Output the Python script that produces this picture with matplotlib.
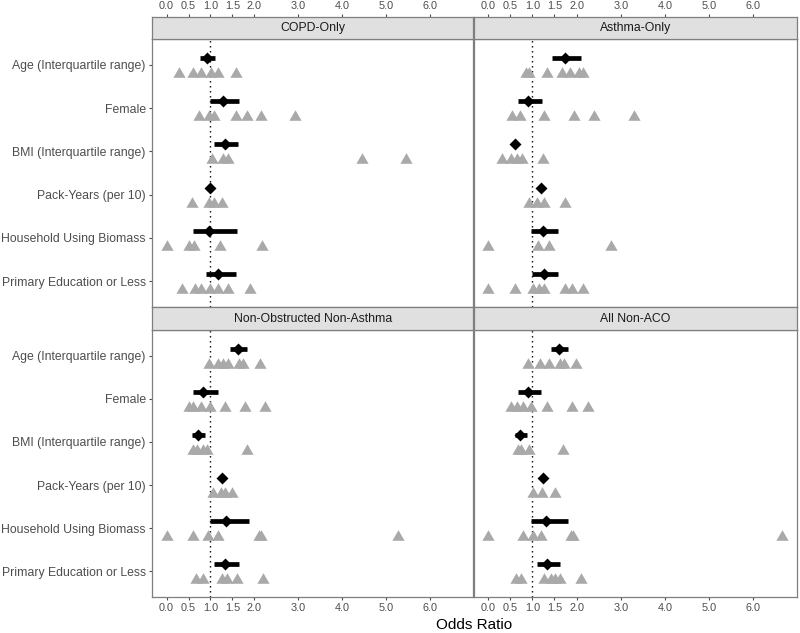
import matplotlib
matplotlib.use("Agg")
import matplotlib.pyplot as plt
import numpy as np

plt.rcParams['font.family'] = ['Liberation Sans', 'DejaVu Sans']

categories = ["Age (Interquartile range)", "Female", "BMI (Interquartile range)",
              "Pack-Years (per 10)", "Household Using Biomass", "Primary Education or Less"]
panel_titles = ["COPD-Only", "Asthma-Only", "Non-Obstructed Non-Asthma", "All Non-ACO"]
x_ticks = [0.0, 0.5, 1.0, 1.5, 2.0, 3.0, 4.0, 5.0, 6.0]
x_tick_labels = ["0.0", "0.5", "1.0", "1.5", "2.0", "3.0", "4.0", "5.0", "6.0"]

# COPD-Only
copd_est = [0.91, 1.28, 1.32, 1.00, 0.97, 1.18]
copd_lo = [0.76, 1.00, 1.07, 0.97, 0.60, 0.89]
copd_hi = [1.10, 1.66, 1.63, 1.03, 1.60, 1.57]
copd_sites = [[0.29, 0.59, 0.78, 1.02, 1.18, 1.58],
              [0.74, 0.96, 1.07, 1.58, 1.83, 2.14, 2.92],
              [1.04, 1.28, 1.41, 4.46, 5.45],
              [0.57, 0.96, 1.09, 1.27],
              [0.00, 0.51, 0.63, 1.22, 2.18],
              [0.36, 0.65, 0.79, 1.00, 1.17, 1.41, 1.90]]

# Asthma-Only
asthma_est = [1.74, 0.91, 0.60, 1.20, 1.24, 1.27]
asthma_lo = [1.44, 0.68, 0.55, 1.16, 0.97, 1.00]
asthma_hi = [2.11, 1.21, 0.66, 1.24, 1.59, 1.59]
asthma_sites = [[0.86, 0.93, 1.33, 1.67, 1.85, 2.05, 2.15],
                [0.53, 0.72, 1.27, 1.94, 2.40, 3.30],
                [0.32, 0.51, 0.65, 0.77, 1.23],
                [0.93, 1.11, 1.27, 1.74],
                [0.00, 1.12, 1.38, 2.78],
                [0.00, 0.60, 1.02, 1.15, 1.27, 1.74, 1.89, 2.14]]

# Non-Obstructed Non-Asthma
nona_est = [1.63, 0.84, 0.72, 1.26, 1.36, 1.34]
nona_lo = [1.45, 0.60, 0.58, 1.22, 1.00, 1.09]
nona_hi = [1.84, 1.18, 0.88, 1.30, 1.87, 1.66]
nona_sites = [[0.96, 1.18, 1.28, 1.39, 1.66, 1.73, 2.13],
              [0.51, 0.60, 0.79, 1.00, 1.32, 1.78, 2.24],
              [0.60, 0.70, 0.82, 0.91, 1.84],
              [1.05, 1.24, 1.32, 1.49],
              [0.00, 0.60, 0.95, 1.17, 2.11, 2.16, 5.28],
              [0.66, 0.83, 1.26, 1.37, 1.60, 2.20]]

# All Non-ACO
all_est = [1.61, 0.91, 0.72, 1.25, 1.32, 1.33]
all_lo = [1.43, 0.68, 0.61, 1.21, 0.97, 1.10]
all_hi = [1.81, 1.20, 0.87, 1.29, 1.81, 1.62]
all_sites = [[0.91, 1.17, 1.38, 1.62, 1.72, 1.99],
             [0.51, 0.66, 0.79, 0.96, 1.33, 1.89, 2.27],
             [0.68, 0.75, 0.92, 1.70],
             [1.01, 1.22, 1.52],
             [0.00, 0.79, 1.02, 1.20, 1.87, 1.92, 6.66],
             [0.64, 0.75, 1.27, 1.42, 1.52, 1.62, 2.10]]

panel_data = [(copd_est, copd_lo, copd_hi, copd_sites),
              (asthma_est, asthma_lo, asthma_hi, asthma_sites),
              (nona_est, nona_lo, nona_hi, nona_sites),
              (all_est, all_lo, all_hi, all_sites)]

# x range with 5% expansion of the data range
all_vals = [v for d in panel_data for s in d[3] for v in s] + \
           [v for d in panel_data for v in d[1] + d[2]]
mn, mx = min(all_vals), max(all_vals)
pad = 0.05 * (mx - mn)
xlim = (mn - pad, mx + pad)

W, H = 800, 633
fig = plt.figure(figsize=(W / 100, H / 100), dpi=100)


def frac(x0, x1, y0, y1):
    return [x0 / W, 1 - y1 / H, (x1 - x0) / W, (y1 - y0) / H]


cols = [(152, 473.5), (473.5, 797)]
rows = [((17, 39), (39, 307)), ((307, 330), (330, 597))]

border = '#7f7f7f'
tick_col = '#4d4d4d'
tri_col = '#a9a9a9'
off = 0.16
tri_marker = [(-1.0, -0.866), (1.0, -0.866), (0.0, 0.866), (-1.0, -0.866)]

for i, title in enumerate(panel_titles):
    r, c = divmod(i, 2)
    (sy0, sy1), (py0, py1) = rows[r]
    x0, x1 = cols[c]
    est, lo, hi, sites = panel_data[i]

    ax = fig.add_axes(frac(x0, x1, py0, py1))
    ax.set_xlim(*xlim)
    ax.set_ylim(len(categories) + 0.6, 0.4)
    ax.axvline(1.0, color='black', lw=1.0, ls=(0, (1, 2.6)), zorder=1)
    for k in range(len(categories)):
        yk = k + 1
        ax.plot(sites[k], [yk + off] * len(sites[k]), ls='none', marker=tri_marker,
                ms=8.8, color=tri_col, mec='none', zorder=2)
        ax.plot([lo[k], hi[k]], [yk - off] * 2, color='black', lw=3.4,
                solid_capstyle='butt', zorder=3)
        ax.plot([est[k]], [yk - off], ls='none', marker='D', ms=6.0,
                color='black', mec='none', zorder=4)
    for s in ax.spines.values():
        s.set_color(border)
        s.set_linewidth(0.9)
    ax.set_yticks(range(1, len(categories) + 1))
    if c == 0:
        ax.set_yticklabels(categories, fontsize=8.8, color=tick_col)
        ax.tick_params(axis='y', length=2.5, width=0.8, color=tick_col, pad=2)
    else:
        ax.tick_params(axis='y', left=False, labelleft=False)
    ax.set_xticks(x_ticks)
    if r == 1:
        ax.set_xticklabels(x_tick_labels, fontsize=7.8, color=tick_col)
        ax.tick_params(axis='x', length=2.5, width=0.8, color=tick_col, pad=2)
    else:
        ax.tick_params(axis='x', bottom=False, labelbottom=False)

    sax = fig.add_axes(frac(x0, x1, sy0, sy1))
    sax.set_facecolor('#e0e0e0')
    sax.set_xlim(*xlim)
    sax.set_ylim(0, 1)
    sax.set_yticks([])
    for s in sax.spines.values():
        s.set_color(border)
        s.set_linewidth(0.9)
    sax.text(0.5, 0.5, title, transform=sax.transAxes, ha='center', va='center',
             fontsize=8.8, color='#1a1a1a')
    if r == 0:
        sax.xaxis.tick_top()
        sax.set_xticks(x_ticks)
        sax.set_xticklabels(x_tick_labels, fontsize=7.8, color=tick_col)
        sax.tick_params(axis='x', top=True, bottom=False, length=2.5, width=0.8,
                        color=tick_col, pad=2)
    else:
        sax.set_xticks([])

fig.text(474.5 / W, 1 - 625 / H, "Odds Ratio", ha='center', va='center',
         fontsize=11, color='black')

fig.savefig("out.png", dpi=100)
